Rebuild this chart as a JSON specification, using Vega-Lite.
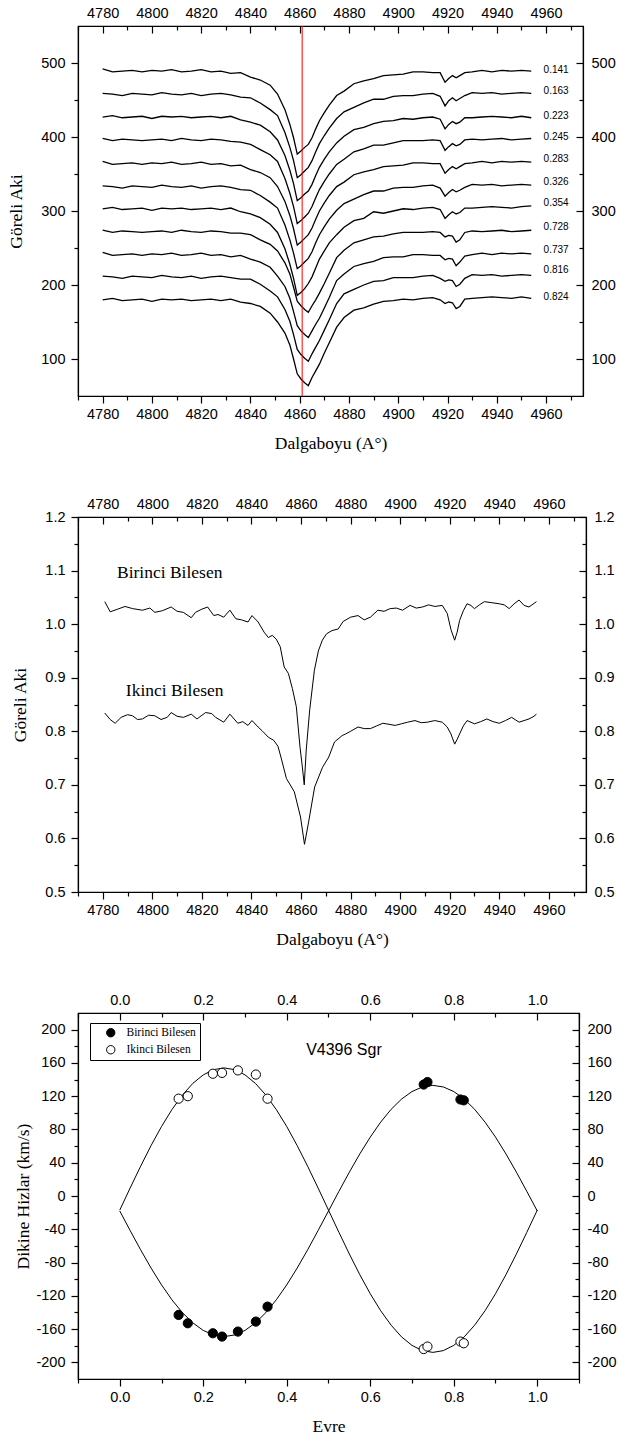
{
"$schema":"https://vega.github.io/schema/vega-lite/v6.json",
"background":"white",
"padding":{"left":7,"top":1,"right":0,"bottom":0},
"config":{
"view":{"stroke":"black","strokeWidth":1.2},
"axis":{"domainColor":"black","domainWidth":1.2,"tickColor":"black","tickWidth":1.2,"labelColor":"black","labelFont":"Liberation Sans","labelFontSize":14.5,"titleFont":"Liberation Serif","titleFontSize":17.5,"titleFontWeight":"normal","titleColor":"black","grid":false,"labelFlush":false,"labelOverlap":false,"labelBound":false}
},
"datasets":{
"spec":[
{"s":"0.141","w":4780,"f":492},{"s":"0.141","w":4784,"f":488},{"s":"0.141","w":4788,"f":489},{"s":"0.141","w":4792,"f":490},{"s":"0.141","w":4796,"f":488},{"s":"0.141","w":4800,"f":490},{"s":"0.141","w":4804,"f":489},{"s":"0.141","w":4808,"f":491},{"s":"0.141","w":4812,"f":488},{"s":"0.141","w":4816,"f":489},{"s":"0.141","w":4820,"f":491},{"s":"0.141","w":4824,"f":488},{"s":"0.141","w":4828,"f":489},{"s":"0.141","w":4832,"f":486},{"s":"0.141","w":4836,"f":487},{"s":"0.141","w":4840,"f":481},{"s":"0.141","w":4844,"f":477},{"s":"0.141","w":4848,"f":470},{"s":"0.141","w":4851,"f":458},{"s":"0.141","w":4854,"f":437},{"s":"0.141","w":4856,"f":417},{"s":"0.141","w":4857.5,"f":399},{"s":"0.141","w":4859,"f":377},{"s":"0.141","w":4860.5,"f":381},{"s":"0.141","w":4862,"f":386},{"s":"0.141","w":4863.5,"f":390},{"s":"0.141","w":4865,"f":399},{"s":"0.141","w":4866.5,"f":411},{"s":"0.141","w":4868,"f":422},{"s":"0.141","w":4870,"f":433},{"s":"0.141","w":4872,"f":443},{"s":"0.141","w":4875,"f":456},{"s":"0.141","w":4878,"f":462},{"s":"0.141","w":4882,"f":472},{"s":"0.141","w":4886,"f":476},{"s":"0.141","w":4890,"f":479},{"s":"0.141","w":4894,"f":483},{"s":"0.141","w":4898,"f":484},{"s":"0.141","w":4902,"f":485},{"s":"0.141","w":4906,"f":488},{"s":"0.141","w":4910,"f":488},{"s":"0.141","w":4914,"f":487},{"s":"0.141","w":4917,"f":487},{"s":"0.141","w":4919,"f":474},{"s":"0.141","w":4920.5,"f":479},{"s":"0.141","w":4922,"f":483},{"s":"0.141","w":4923.5,"f":480},{"s":"0.141","w":4925,"f":483},{"s":"0.141","w":4927,"f":487},{"s":"0.141","w":4930,"f":488},{"s":"0.141","w":4934,"f":490},{"s":"0.141","w":4938,"f":488},{"s":"0.141","w":4942,"f":490},{"s":"0.141","w":4946,"f":489},{"s":"0.141","w":4950,"f":490},{"s":"0.141","w":4954,"f":489},
{"s":"0.163","w":4780,"f":459},{"s":"0.163","w":4784,"f":458},{"s":"0.163","w":4788,"f":456},{"s":"0.163","w":4792,"f":459},{"s":"0.163","w":4796,"f":458},{"s":"0.163","w":4800,"f":457},{"s":"0.163","w":4804,"f":460},{"s":"0.163","w":4808,"f":458},{"s":"0.163","w":4812,"f":457},{"s":"0.163","w":4816,"f":459},{"s":"0.163","w":4820,"f":456},{"s":"0.163","w":4824,"f":458},{"s":"0.163","w":4828,"f":459},{"s":"0.163","w":4832,"f":457},{"s":"0.163","w":4836,"f":454},{"s":"0.163","w":4840,"f":453},{"s":"0.163","w":4844,"f":446},{"s":"0.163","w":4848,"f":437},{"s":"0.163","w":4851,"f":429},{"s":"0.163","w":4854,"f":406},{"s":"0.163","w":4856,"f":386},{"s":"0.163","w":4857.5,"f":368},{"s":"0.163","w":4859,"f":345},{"s":"0.163","w":4860.5,"f":349},{"s":"0.163","w":4862,"f":354},{"s":"0.163","w":4863.5,"f":359},{"s":"0.163","w":4865,"f":368},{"s":"0.163","w":4866.5,"f":380},{"s":"0.163","w":4868,"f":391},{"s":"0.163","w":4870,"f":402},{"s":"0.163","w":4872,"f":412},{"s":"0.163","w":4875,"f":425},{"s":"0.163","w":4878,"f":434},{"s":"0.163","w":4882,"f":440},{"s":"0.163","w":4886,"f":446},{"s":"0.163","w":4890,"f":451},{"s":"0.163","w":4894,"f":451},{"s":"0.163","w":4898,"f":455},{"s":"0.163","w":4902,"f":456},{"s":"0.163","w":4906,"f":456},{"s":"0.163","w":4910,"f":458},{"s":"0.163","w":4914,"f":459},{"s":"0.163","w":4917,"f":455},{"s":"0.163","w":4919,"f":442},{"s":"0.163","w":4920.5,"f":449},{"s":"0.163","w":4922,"f":453},{"s":"0.163","w":4923.5,"f":449},{"s":"0.163","w":4925,"f":452},{"s":"0.163","w":4927,"f":456},{"s":"0.163","w":4930,"f":460},{"s":"0.163","w":4934,"f":459},{"s":"0.163","w":4938,"f":460},{"s":"0.163","w":4942,"f":458},{"s":"0.163","w":4946,"f":459},{"s":"0.163","w":4950,"f":460},{"s":"0.163","w":4954,"f":459},
{"s":"0.223","w":4780,"f":427},{"s":"0.223","w":4784,"f":429},{"s":"0.223","w":4788,"f":426},{"s":"0.223","w":4792,"f":427},{"s":"0.223","w":4796,"f":428},{"s":"0.223","w":4800,"f":425},{"s":"0.223","w":4804,"f":428},{"s":"0.223","w":4808,"f":427},{"s":"0.223","w":4812,"f":428},{"s":"0.223","w":4816,"f":426},{"s":"0.223","w":4820,"f":427},{"s":"0.223","w":4824,"f":428},{"s":"0.223","w":4828,"f":426},{"s":"0.223","w":4832,"f":428},{"s":"0.223","w":4836,"f":423},{"s":"0.223","w":4840,"f":420},{"s":"0.223","w":4844,"f":416},{"s":"0.223","w":4848,"f":407},{"s":"0.223","w":4851,"f":396},{"s":"0.223","w":4854,"f":375},{"s":"0.223","w":4856,"f":355},{"s":"0.223","w":4857.5,"f":337},{"s":"0.223","w":4859,"f":314},{"s":"0.223","w":4860.5,"f":318},{"s":"0.223","w":4862,"f":323},{"s":"0.223","w":4863.5,"f":327},{"s":"0.223","w":4865,"f":336},{"s":"0.223","w":4866.5,"f":348},{"s":"0.223","w":4868,"f":359},{"s":"0.223","w":4870,"f":370},{"s":"0.223","w":4872,"f":380},{"s":"0.223","w":4875,"f":392},{"s":"0.223","w":4878,"f":401},{"s":"0.223","w":4882,"f":410},{"s":"0.223","w":4886,"f":413},{"s":"0.223","w":4890,"f":418},{"s":"0.223","w":4894,"f":421},{"s":"0.223","w":4898,"f":422},{"s":"0.223","w":4902,"f":425},{"s":"0.223","w":4906,"f":424},{"s":"0.223","w":4910,"f":426},{"s":"0.223","w":4914,"f":427},{"s":"0.223","w":4917,"f":424},{"s":"0.223","w":4919,"f":411},{"s":"0.223","w":4920.5,"f":417},{"s":"0.223","w":4922,"f":421},{"s":"0.223","w":4923.5,"f":418},{"s":"0.223","w":4925,"f":420},{"s":"0.223","w":4927,"f":426},{"s":"0.223","w":4930,"f":426},{"s":"0.223","w":4934,"f":427},{"s":"0.223","w":4938,"f":428},{"s":"0.223","w":4942,"f":427},{"s":"0.223","w":4946,"f":426},{"s":"0.223","w":4950,"f":428},{"s":"0.223","w":4954,"f":426},
{"s":"0.245","w":4780,"f":398},{"s":"0.245","w":4784,"f":395},{"s":"0.245","w":4788,"f":397},{"s":"0.245","w":4792,"f":396},{"s":"0.245","w":4796,"f":395},{"s":"0.245","w":4800,"f":396},{"s":"0.245","w":4804,"f":397},{"s":"0.245","w":4808,"f":395},{"s":"0.245","w":4812,"f":398},{"s":"0.245","w":4816,"f":396},{"s":"0.245","w":4820,"f":395},{"s":"0.245","w":4824,"f":397},{"s":"0.245","w":4828,"f":396},{"s":"0.245","w":4832,"f":394},{"s":"0.245","w":4836,"f":393},{"s":"0.245","w":4840,"f":390},{"s":"0.245","w":4844,"f":383},{"s":"0.245","w":4848,"f":376},{"s":"0.245","w":4851,"f":367},{"s":"0.245","w":4854,"f":344},{"s":"0.245","w":4856,"f":324},{"s":"0.245","w":4857.5,"f":306},{"s":"0.245","w":4859,"f":283},{"s":"0.245","w":4860.5,"f":287},{"s":"0.245","w":4862,"f":292},{"s":"0.245","w":4863.5,"f":297},{"s":"0.245","w":4865,"f":306},{"s":"0.245","w":4866.5,"f":318},{"s":"0.245","w":4868,"f":329},{"s":"0.245","w":4870,"f":340},{"s":"0.245","w":4872,"f":350},{"s":"0.245","w":4875,"f":363},{"s":"0.245","w":4878,"f":370},{"s":"0.245","w":4882,"f":380},{"s":"0.245","w":4886,"f":384},{"s":"0.245","w":4890,"f":389},{"s":"0.245","w":4894,"f":389},{"s":"0.245","w":4898,"f":392},{"s":"0.245","w":4902,"f":395},{"s":"0.245","w":4906,"f":395},{"s":"0.245","w":4910,"f":395},{"s":"0.245","w":4914,"f":396},{"s":"0.245","w":4917,"f":395},{"s":"0.245","w":4919,"f":382},{"s":"0.245","w":4920.5,"f":387},{"s":"0.245","w":4922,"f":391},{"s":"0.245","w":4923.5,"f":388},{"s":"0.245","w":4925,"f":390},{"s":"0.245","w":4927,"f":396},{"s":"0.245","w":4930,"f":397},{"s":"0.245","w":4934,"f":396},{"s":"0.245","w":4938,"f":397},{"s":"0.245","w":4942,"f":398},{"s":"0.245","w":4946,"f":396},{"s":"0.245","w":4950,"f":397},{"s":"0.245","w":4954,"f":398},
{"s":"0.283","w":4780,"f":367},{"s":"0.283","w":4784,"f":363},{"s":"0.283","w":4788,"f":364},{"s":"0.283","w":4792,"f":365},{"s":"0.283","w":4796,"f":363},{"s":"0.283","w":4800,"f":365},{"s":"0.283","w":4804,"f":364},{"s":"0.283","w":4808,"f":366},{"s":"0.283","w":4812,"f":363},{"s":"0.283","w":4816,"f":364},{"s":"0.283","w":4820,"f":366},{"s":"0.283","w":4824,"f":363},{"s":"0.283","w":4828,"f":364},{"s":"0.283","w":4832,"f":361},{"s":"0.283","w":4836,"f":362},{"s":"0.283","w":4840,"f":356},{"s":"0.283","w":4844,"f":352},{"s":"0.283","w":4848,"f":345},{"s":"0.283","w":4851,"f":333},{"s":"0.283","w":4854,"f":313},{"s":"0.283","w":4856,"f":294},{"s":"0.283","w":4857.5,"f":276},{"s":"0.283","w":4859,"f":254},{"s":"0.283","w":4860.5,"f":258},{"s":"0.283","w":4862,"f":263},{"s":"0.283","w":4863.5,"f":268},{"s":"0.283","w":4865,"f":277},{"s":"0.283","w":4866.5,"f":289},{"s":"0.283","w":4868,"f":300},{"s":"0.283","w":4870,"f":311},{"s":"0.283","w":4872,"f":321},{"s":"0.283","w":4875,"f":333},{"s":"0.283","w":4878,"f":339},{"s":"0.283","w":4882,"f":349},{"s":"0.283","w":4886,"f":353},{"s":"0.283","w":4890,"f":356},{"s":"0.283","w":4894,"f":360},{"s":"0.283","w":4898,"f":361},{"s":"0.283","w":4902,"f":362},{"s":"0.283","w":4906,"f":365},{"s":"0.283","w":4910,"f":365},{"s":"0.283","w":4914,"f":364},{"s":"0.283","w":4917,"f":364},{"s":"0.283","w":4919,"f":351},{"s":"0.283","w":4920.5,"f":356},{"s":"0.283","w":4922,"f":360},{"s":"0.283","w":4923.5,"f":357},{"s":"0.283","w":4925,"f":360},{"s":"0.283","w":4927,"f":364},{"s":"0.283","w":4930,"f":365},{"s":"0.283","w":4934,"f":367},{"s":"0.283","w":4938,"f":365},{"s":"0.283","w":4942,"f":367},{"s":"0.283","w":4946,"f":366},{"s":"0.283","w":4950,"f":367},{"s":"0.283","w":4954,"f":366},
{"s":"0.326","w":4780,"f":334},{"s":"0.326","w":4784,"f":333},{"s":"0.326","w":4788,"f":331},{"s":"0.326","w":4792,"f":334},{"s":"0.326","w":4796,"f":333},{"s":"0.326","w":4800,"f":332},{"s":"0.326","w":4804,"f":335},{"s":"0.326","w":4808,"f":333},{"s":"0.326","w":4812,"f":332},{"s":"0.326","w":4816,"f":334},{"s":"0.326","w":4820,"f":331},{"s":"0.326","w":4824,"f":333},{"s":"0.326","w":4828,"f":334},{"s":"0.326","w":4832,"f":332},{"s":"0.326","w":4836,"f":329},{"s":"0.326","w":4840,"f":328},{"s":"0.326","w":4844,"f":321},{"s":"0.326","w":4848,"f":312},{"s":"0.326","w":4851,"f":304},{"s":"0.326","w":4854,"f":281},{"s":"0.326","w":4856,"f":261},{"s":"0.326","w":4857.5,"f":243},{"s":"0.326","w":4859,"f":222},{"s":"0.326","w":4860.5,"f":226},{"s":"0.326","w":4862,"f":231},{"s":"0.326","w":4863.5,"f":236},{"s":"0.326","w":4865,"f":245},{"s":"0.326","w":4866.5,"f":257},{"s":"0.326","w":4868,"f":268},{"s":"0.326","w":4870,"f":279},{"s":"0.326","w":4872,"f":289},{"s":"0.326","w":4875,"f":301},{"s":"0.326","w":4878,"f":310},{"s":"0.326","w":4882,"f":316},{"s":"0.326","w":4886,"f":322},{"s":"0.326","w":4890,"f":327},{"s":"0.326","w":4894,"f":327},{"s":"0.326","w":4898,"f":331},{"s":"0.326","w":4902,"f":332},{"s":"0.326","w":4906,"f":332},{"s":"0.326","w":4910,"f":334},{"s":"0.326","w":4914,"f":335},{"s":"0.326","w":4917,"f":331},{"s":"0.326","w":4919,"f":320},{"s":"0.326","w":4920.5,"f":325},{"s":"0.326","w":4922,"f":329},{"s":"0.326","w":4923.5,"f":326},{"s":"0.326","w":4925,"f":328},{"s":"0.326","w":4927,"f":332},{"s":"0.326","w":4930,"f":336},{"s":"0.326","w":4934,"f":335},{"s":"0.326","w":4938,"f":336},{"s":"0.326","w":4942,"f":334},{"s":"0.326","w":4946,"f":335},{"s":"0.326","w":4950,"f":336},{"s":"0.326","w":4954,"f":335},
{"s":"0.354","w":4780,"f":303},{"s":"0.354","w":4784,"f":305},{"s":"0.354","w":4788,"f":302},{"s":"0.354","w":4792,"f":303},{"s":"0.354","w":4796,"f":304},{"s":"0.354","w":4800,"f":301},{"s":"0.354","w":4804,"f":304},{"s":"0.354","w":4808,"f":303},{"s":"0.354","w":4812,"f":304},{"s":"0.354","w":4816,"f":302},{"s":"0.354","w":4820,"f":303},{"s":"0.354","w":4824,"f":304},{"s":"0.354","w":4828,"f":302},{"s":"0.354","w":4832,"f":304},{"s":"0.354","w":4836,"f":299},{"s":"0.354","w":4840,"f":296},{"s":"0.354","w":4844,"f":291},{"s":"0.354","w":4848,"f":282},{"s":"0.354","w":4851,"f":271},{"s":"0.354","w":4854,"f":249},{"s":"0.354","w":4856,"f":228},{"s":"0.354","w":4857.5,"f":209},{"s":"0.354","w":4859,"f":186},{"s":"0.354","w":4860.5,"f":190},{"s":"0.354","w":4862,"f":195},{"s":"0.354","w":4863.5,"f":202},{"s":"0.354","w":4865,"f":211},{"s":"0.354","w":4866.5,"f":223},{"s":"0.354","w":4868,"f":235},{"s":"0.354","w":4870,"f":246},{"s":"0.354","w":4872,"f":257},{"s":"0.354","w":4875,"f":268},{"s":"0.354","w":4878,"f":278},{"s":"0.354","w":4882,"f":287},{"s":"0.354","w":4886,"f":290},{"s":"0.354","w":4890,"f":299},{"s":"0.354","w":4894,"f":297},{"s":"0.354","w":4898,"f":300},{"s":"0.354","w":4902,"f":303},{"s":"0.354","w":4906,"f":302},{"s":"0.354","w":4910,"f":304},{"s":"0.354","w":4914,"f":305},{"s":"0.354","w":4917,"f":302},{"s":"0.354","w":4919,"f":290},{"s":"0.354","w":4920.5,"f":295},{"s":"0.354","w":4922,"f":299},{"s":"0.354","w":4923.5,"f":296},{"s":"0.354","w":4925,"f":298},{"s":"0.354","w":4927,"f":304},{"s":"0.354","w":4930,"f":304},{"s":"0.354","w":4934,"f":305},{"s":"0.354","w":4938,"f":306},{"s":"0.354","w":4942,"f":305},{"s":"0.354","w":4946,"f":304},{"s":"0.354","w":4950,"f":306},{"s":"0.354","w":4954,"f":307},
{"s":"0.728","w":4780,"f":274},{"s":"0.728","w":4784,"f":271},{"s":"0.728","w":4788,"f":273},{"s":"0.728","w":4792,"f":272},{"s":"0.728","w":4796,"f":271},{"s":"0.728","w":4800,"f":272},{"s":"0.728","w":4804,"f":273},{"s":"0.728","w":4808,"f":271},{"s":"0.728","w":4812,"f":274},{"s":"0.728","w":4816,"f":272},{"s":"0.728","w":4820,"f":271},{"s":"0.728","w":4824,"f":273},{"s":"0.728","w":4828,"f":272},{"s":"0.728","w":4832,"f":270},{"s":"0.728","w":4836,"f":270},{"s":"0.728","w":4840,"f":268},{"s":"0.728","w":4844,"f":261},{"s":"0.728","w":4848,"f":255},{"s":"0.728","w":4851,"f":246},{"s":"0.728","w":4854,"f":230},{"s":"0.728","w":4856,"f":215},{"s":"0.728","w":4857.5,"f":197},{"s":"0.728","w":4859,"f":178},{"s":"0.728","w":4860.5,"f":172},{"s":"0.728","w":4862,"f":167},{"s":"0.728","w":4863.5,"f":163},{"s":"0.728","w":4865,"f":172},{"s":"0.728","w":4866.5,"f":180},{"s":"0.728","w":4868,"f":189},{"s":"0.728","w":4870,"f":202},{"s":"0.728","w":4872,"f":216},{"s":"0.728","w":4875,"f":237},{"s":"0.728","w":4878,"f":247},{"s":"0.728","w":4882,"f":257},{"s":"0.728","w":4886,"f":261},{"s":"0.728","w":4890,"f":265},{"s":"0.728","w":4894,"f":266},{"s":"0.728","w":4898,"f":269},{"s":"0.728","w":4902,"f":271},{"s":"0.728","w":4906,"f":271},{"s":"0.728","w":4910,"f":271},{"s":"0.728","w":4914,"f":272},{"s":"0.728","w":4917,"f":271},{"s":"0.728","w":4919,"f":265},{"s":"0.728","w":4920.5,"f":267},{"s":"0.728","w":4922,"f":266},{"s":"0.728","w":4923.5,"f":258},{"s":"0.728","w":4925,"f":261},{"s":"0.728","w":4927,"f":271},{"s":"0.728","w":4930,"f":273},{"s":"0.728","w":4934,"f":272},{"s":"0.728","w":4938,"f":273},{"s":"0.728","w":4942,"f":274},{"s":"0.728","w":4946,"f":272},{"s":"0.728","w":4950,"f":273},{"s":"0.728","w":4954,"f":274},
{"s":"0.737","w":4780,"f":244},{"s":"0.737","w":4784,"f":240},{"s":"0.737","w":4788,"f":241},{"s":"0.737","w":4792,"f":242},{"s":"0.737","w":4796,"f":240},{"s":"0.737","w":4800,"f":242},{"s":"0.737","w":4804,"f":241},{"s":"0.737","w":4808,"f":243},{"s":"0.737","w":4812,"f":240},{"s":"0.737","w":4816,"f":241},{"s":"0.737","w":4820,"f":243},{"s":"0.737","w":4824,"f":240},{"s":"0.737","w":4828,"f":241},{"s":"0.737","w":4832,"f":238},{"s":"0.737","w":4836,"f":240},{"s":"0.737","w":4840,"f":235},{"s":"0.737","w":4844,"f":231},{"s":"0.737","w":4848,"f":224},{"s":"0.737","w":4851,"f":212},{"s":"0.737","w":4854,"f":198},{"s":"0.737","w":4856,"f":182},{"s":"0.737","w":4857.5,"f":164},{"s":"0.737","w":4859,"f":145},{"s":"0.737","w":4860.5,"f":138},{"s":"0.737","w":4862,"f":133},{"s":"0.737","w":4863.5,"f":129},{"s":"0.737","w":4865,"f":138},{"s":"0.737","w":4866.5,"f":147},{"s":"0.737","w":4868,"f":155},{"s":"0.737","w":4870,"f":169},{"s":"0.737","w":4872,"f":183},{"s":"0.737","w":4875,"f":206},{"s":"0.737","w":4878,"f":215},{"s":"0.737","w":4882,"f":225},{"s":"0.737","w":4886,"f":229},{"s":"0.737","w":4890,"f":232},{"s":"0.737","w":4894,"f":237},{"s":"0.737","w":4898,"f":238},{"s":"0.737","w":4902,"f":238},{"s":"0.737","w":4906,"f":241},{"s":"0.737","w":4910,"f":241},{"s":"0.737","w":4914,"f":240},{"s":"0.737","w":4917,"f":240},{"s":"0.737","w":4919,"f":234},{"s":"0.737","w":4920.5,"f":236},{"s":"0.737","w":4922,"f":235},{"s":"0.737","w":4923.5,"f":226},{"s":"0.737","w":4925,"f":231},{"s":"0.737","w":4927,"f":239},{"s":"0.737","w":4930,"f":241},{"s":"0.737","w":4934,"f":243},{"s":"0.737","w":4938,"f":241},{"s":"0.737","w":4942,"f":243},{"s":"0.737","w":4946,"f":242},{"s":"0.737","w":4950,"f":243},{"s":"0.737","w":4954,"f":242},
{"s":"0.816","w":4780,"f":212},{"s":"0.816","w":4784,"f":211},{"s":"0.816","w":4788,"f":209},{"s":"0.816","w":4792,"f":212},{"s":"0.816","w":4796,"f":211},{"s":"0.816","w":4800,"f":210},{"s":"0.816","w":4804,"f":213},{"s":"0.816","w":4808,"f":211},{"s":"0.816","w":4812,"f":210},{"s":"0.816","w":4816,"f":212},{"s":"0.816","w":4820,"f":209},{"s":"0.816","w":4824,"f":211},{"s":"0.816","w":4828,"f":212},{"s":"0.816","w":4832,"f":210},{"s":"0.816","w":4836,"f":208},{"s":"0.816","w":4840,"f":208},{"s":"0.816","w":4844,"f":201},{"s":"0.816","w":4848,"f":192},{"s":"0.816","w":4851,"f":184},{"s":"0.816","w":4854,"f":167},{"s":"0.816","w":4856,"f":151},{"s":"0.816","w":4857.5,"f":133},{"s":"0.816","w":4859,"f":113},{"s":"0.816","w":4860.5,"f":106},{"s":"0.816","w":4862,"f":101},{"s":"0.816","w":4863.5,"f":97},{"s":"0.816","w":4865,"f":107},{"s":"0.816","w":4866.5,"f":116},{"s":"0.816","w":4868,"f":125},{"s":"0.816","w":4870,"f":139},{"s":"0.816","w":4872,"f":153},{"s":"0.816","w":4875,"f":175},{"s":"0.816","w":4878,"f":188},{"s":"0.816","w":4882,"f":194},{"s":"0.816","w":4886,"f":200},{"s":"0.816","w":4890,"f":205},{"s":"0.816","w":4894,"f":206},{"s":"0.816","w":4898,"f":210},{"s":"0.816","w":4902,"f":210},{"s":"0.816","w":4906,"f":210},{"s":"0.816","w":4910,"f":212},{"s":"0.816","w":4914,"f":213},{"s":"0.816","w":4917,"f":209},{"s":"0.816","w":4919,"f":205},{"s":"0.816","w":4920.5,"f":207},{"s":"0.816","w":4922,"f":206},{"s":"0.816","w":4923.5,"f":198},{"s":"0.816","w":4925,"f":201},{"s":"0.816","w":4927,"f":209},{"s":"0.816","w":4930,"f":214},{"s":"0.816","w":4934,"f":213},{"s":"0.816","w":4938,"f":214},{"s":"0.816","w":4942,"f":212},{"s":"0.816","w":4946,"f":213},{"s":"0.816","w":4950,"f":214},{"s":"0.816","w":4954,"f":213},
{"s":"0.824","w":4780,"f":180},{"s":"0.824","w":4784,"f":182},{"s":"0.824","w":4788,"f":179},{"s":"0.824","w":4792,"f":180},{"s":"0.824","w":4796,"f":181},{"s":"0.824","w":4800,"f":178},{"s":"0.824","w":4804,"f":181},{"s":"0.824","w":4808,"f":180},{"s":"0.824","w":4812,"f":181},{"s":"0.824","w":4816,"f":179},{"s":"0.824","w":4820,"f":180},{"s":"0.824","w":4824,"f":181},{"s":"0.824","w":4828,"f":179},{"s":"0.824","w":4832,"f":181},{"s":"0.824","w":4836,"f":177},{"s":"0.824","w":4840,"f":175},{"s":"0.824","w":4844,"f":171},{"s":"0.824","w":4848,"f":162},{"s":"0.824","w":4851,"f":150},{"s":"0.824","w":4854,"f":135},{"s":"0.824","w":4856,"f":119},{"s":"0.824","w":4857.5,"f":100},{"s":"0.824","w":4859,"f":80},{"s":"0.824","w":4860.5,"f":73},{"s":"0.824","w":4862,"f":68},{"s":"0.824","w":4863.5,"f":64},{"s":"0.824","w":4865,"f":75},{"s":"0.824","w":4866.5,"f":84},{"s":"0.824","w":4868,"f":93},{"s":"0.824","w":4870,"f":108},{"s":"0.824","w":4872,"f":122},{"s":"0.824","w":4875,"f":143},{"s":"0.824","w":4878,"f":156},{"s":"0.824","w":4882,"f":166},{"s":"0.824","w":4886,"f":169},{"s":"0.824","w":4890,"f":174},{"s":"0.824","w":4894,"f":178},{"s":"0.824","w":4898,"f":179},{"s":"0.824","w":4902,"f":181},{"s":"0.824","w":4906,"f":180},{"s":"0.824","w":4910,"f":182},{"s":"0.824","w":4914,"f":183},{"s":"0.824","w":4917,"f":180},{"s":"0.824","w":4919,"f":175},{"s":"0.824","w":4920.5,"f":177},{"s":"0.824","w":4922,"f":176},{"s":"0.824","w":4923.5,"f":168},{"s":"0.824","w":4925,"f":171},{"s":"0.824","w":4927,"f":181},{"s":"0.824","w":4930,"f":182},{"s":"0.824","w":4934,"f":183},{"s":"0.824","w":4938,"f":184},{"s":"0.824","w":4942,"f":183},{"s":"0.824","w":4946,"f":182},{"s":"0.824","w":4950,"f":184},{"s":"0.824","w":4954,"f":182}
],
"lab":[{"s":"0.141","y":490},{"s":"0.163","y":462},{"s":"0.223","y":429},{"s":"0.245","y":400},{"s":"0.283","y":370},{"s":"0.326","y":339},{"s":"0.354","y":311},{"s":"0.728","y":278},{"s":"0.737","y":247},{"s":"0.816","y":220},{"s":"0.824","y":184}],
"comp":[
{"c":"B","w":4780.8,"f":1.042},{"c":"B","w":4783,"f":1.023},{"c":"B","w":4786,"f":1.028},{"c":"B","w":4789,"f":1.033},{"c":"B","w":4792,"f":1.029},{"c":"B","w":4796,"f":1.026},{"c":"B","w":4799,"f":1.03},{"c":"B","w":4801,"f":1.022},{"c":"B","w":4804,"f":1.025},{"c":"B","w":4807.6,"f":1.032},{"c":"B","w":4810,"f":1.024},{"c":"B","w":4812.5,"f":1.022},{"c":"B","w":4815.7,"f":1.012},{"c":"B","w":4817.4,"f":1.022},{"c":"B","w":4820,"f":1.028},{"c":"B","w":4822.3,"f":1.032},{"c":"B","w":4824.8,"f":1.016},{"c":"B","w":4826.5,"f":1.018},{"c":"B","w":4828.8,"f":1.013},{"c":"B","w":4831.3,"f":1.026},{"c":"B","w":4833.7,"f":1.01},{"c":"B","w":4836,"f":1.008},{"c":"B","w":4838.6,"f":1.004},{"c":"B","w":4840.2,"f":1.016},{"c":"B","w":4842.7,"f":1.004},{"c":"B","w":4845.1,"f":0.985},{"c":"B","w":4846.8,"f":0.975},{"c":"B","w":4848.4,"f":0.979},{"c":"B","w":4850,"f":0.972},{"c":"B","w":4851.6,"f":0.958},{"c":"B","w":4853.2,"f":0.92},{"c":"B","w":4854.9,"f":0.908},{"c":"B","w":4856.5,"f":0.88},{"c":"B","w":4858.1,"f":0.846},{"c":"B","w":4859.6,"f":0.77},{"c":"B","w":4860.5,"f":0.735},{"c":"B","w":4861.3,"f":0.7},{"c":"B","w":4862.1,"f":0.765},{"c":"B","w":4863.5,"f":0.84},{"c":"B","w":4865.4,"f":0.914},{"c":"B","w":4867,"f":0.95},{"c":"B","w":4868.6,"f":0.97},{"c":"B","w":4870.3,"f":0.982},{"c":"B","w":4872.5,"f":0.988},{"c":"B","w":4875,"f":0.991},{"c":"B","w":4877,"f":1.005},{"c":"B","w":4880,"f":1.013},{"c":"B","w":4883,"f":1.016},{"c":"B","w":4885.5,"f":1.008},{"c":"B","w":4888,"f":1.013},{"c":"B","w":4891,"f":1.026},{"c":"B","w":4893.5,"f":1.024},{"c":"B","w":4896,"f":1.029},{"c":"B","w":4898.5,"f":1.03},{"c":"B","w":4901,"f":1.026},{"c":"B","w":4904,"f":1.035},{"c":"B","w":4906.5,"f":1.03},{"c":"B","w":4909,"f":1.032},{"c":"B","w":4911.5,"f":1.036},{"c":"B","w":4914,"f":1.033},{"c":"B","w":4917,"f":1.035},{"c":"B","w":4919,"f":1.02},{"c":"B","w":4920.5,"f":0.99},{"c":"B","w":4922,"f":0.97},{"c":"B","w":4923,"f":0.985},{"c":"B","w":4924,"f":1.007},{"c":"B","w":4925.5,"f":1.025},{"c":"B","w":4927,"f":1.038},{"c":"B","w":4928.5,"f":1.035},{"c":"B","w":4930,"f":1.029},{"c":"B","w":4932,"f":1.036},{"c":"B","w":4934,"f":1.042},{"c":"B","w":4937,"f":1.04},{"c":"B","w":4940,"f":1.038},{"c":"B","w":4942,"f":1.036},{"c":"B","w":4944,"f":1.029},{"c":"B","w":4946,"f":1.038},{"c":"B","w":4948,"f":1.045},{"c":"B","w":4950,"f":1.035},{"c":"B","w":4952,"f":1.032},{"c":"B","w":4955,"f":1.042},
{"c":"I","w":4780.8,"f":0.834},{"c":"I","w":4783,"f":0.822},{"c":"I","w":4785,"f":0.815},{"c":"I","w":4787.4,"f":0.826},{"c":"I","w":4790,"f":0.831},{"c":"I","w":4792,"f":0.829},{"c":"I","w":4794,"f":0.822},{"c":"I","w":4796,"f":0.823},{"c":"I","w":4798.5,"f":0.83},{"c":"I","w":4801,"f":0.829},{"c":"I","w":4803.5,"f":0.822},{"c":"I","w":4806,"f":0.826},{"c":"I","w":4807.6,"f":0.835},{"c":"I","w":4810,"f":0.828},{"c":"I","w":4812.5,"f":0.826},{"c":"I","w":4815.7,"f":0.832},{"c":"I","w":4818,"f":0.823},{"c":"I","w":4821.5,"f":0.835},{"c":"I","w":4824,"f":0.833},{"c":"I","w":4825.5,"f":0.826},{"c":"I","w":4828.8,"f":0.817},{"c":"I","w":4831.3,"f":0.832},{"c":"I","w":4834.5,"f":0.815},{"c":"I","w":4836.5,"f":0.818},{"c":"I","w":4838.6,"f":0.811},{"c":"I","w":4840.2,"f":0.82},{"c":"I","w":4842.7,"f":0.808},{"c":"I","w":4844.5,"f":0.8},{"c":"I","w":4846.8,"f":0.789},{"c":"I","w":4849,"f":0.783},{"c":"I","w":4850.7,"f":0.772},{"c":"I","w":4852,"f":0.75},{"c":"I","w":4854.1,"f":0.712},{"c":"I","w":4857.3,"f":0.687},{"c":"I","w":4859.8,"f":0.64},{"c":"I","w":4861.4,"f":0.589},{"c":"I","w":4863,"f":0.629},{"c":"I","w":4865.5,"f":0.696},{"c":"I","w":4868.7,"f":0.733},{"c":"I","w":4871.2,"f":0.752},{"c":"I","w":4873.5,"f":0.78},{"c":"I","w":4876.6,"f":0.792},{"c":"I","w":4878,"f":0.795},{"c":"I","w":4880,"f":0.8},{"c":"I","w":4883,"f":0.808},{"c":"I","w":4885.5,"f":0.805},{"c":"I","w":4888,"f":0.805},{"c":"I","w":4890.5,"f":0.81},{"c":"I","w":4893,"f":0.815},{"c":"I","w":4895.5,"f":0.813},{"c":"I","w":4898,"f":0.811},{"c":"I","w":4900.5,"f":0.814},{"c":"I","w":4903,"f":0.817},{"c":"I","w":4906,"f":0.82},{"c":"I","w":4908.5,"f":0.816},{"c":"I","w":4911,"f":0.817},{"c":"I","w":4914,"f":0.82},{"c":"I","w":4917,"f":0.817},{"c":"I","w":4919,"f":0.808},{"c":"I","w":4920.5,"f":0.795},{"c":"I","w":4922,"f":0.776},{"c":"I","w":4923,"f":0.785},{"c":"I","w":4924,"f":0.795},{"c":"I","w":4925.5,"f":0.81},{"c":"I","w":4927,"f":0.82},{"c":"I","w":4930,"f":0.814},{"c":"I","w":4932.5,"f":0.818},{"c":"I","w":4935,"f":0.823},{"c":"I","w":4937.5,"f":0.818},{"c":"I","w":4940,"f":0.815},{"c":"I","w":4942.5,"f":0.82},{"c":"I","w":4945,"f":0.826},{"c":"I","w":4948,"f":0.817},{"c":"I","w":4950,"f":0.82},{"c":"I","w":4952,"f":0.823},{"c":"I","w":4954,"f":0.828},{"c":"I","w":4955,"f":0.832}
],
"comptxt":[{"t":"Birinci Bilesen","w":4807,"f":1.095},{"t":"Ikinci Bilesen","w":4809,"f":0.875}],
"fit":[
{"c":"B","p":0,"v":-18},{"c":"B","p":0.025,"v":-41.6},{"c":"B","p":0.05,"v":-64.7},{"c":"B","p":0.075,"v":-86.6},{"c":"B","p":0.1,"v":-106.8},{"c":"B","p":0.125,"v":-124.8},{"c":"B","p":0.15,"v":-140.2},{"c":"B","p":0.175,"v":-152.5},{"c":"B","p":0.2,"v":-161.6},{"c":"B","p":0.225,"v":-167.1},{"c":"B","p":0.25,"v":-169},{"c":"B","p":0.275,"v":-167.1},{"c":"B","p":0.3,"v":-161.6},{"c":"B","p":0.325,"v":-152.5},{"c":"B","p":0.35,"v":-140.2},{"c":"B","p":0.375,"v":-124.8},{"c":"B","p":0.4,"v":-106.8},{"c":"B","p":0.425,"v":-86.6},{"c":"B","p":0.45,"v":-64.7},{"c":"B","p":0.475,"v":-41.6},{"c":"B","p":0.5,"v":-18},{"c":"B","p":0.525,"v":5.6},{"c":"B","p":0.55,"v":28.7},{"c":"B","p":0.575,"v":50.6},{"c":"B","p":0.6,"v":70.8},{"c":"B","p":0.625,"v":88.8},{"c":"B","p":0.65,"v":104.2},{"c":"B","p":0.675,"v":116.5},{"c":"B","p":0.7,"v":125.6},{"c":"B","p":0.725,"v":131.1},{"c":"B","p":0.75,"v":133},{"c":"B","p":0.775,"v":131.1},{"c":"B","p":0.8,"v":125.6},{"c":"B","p":0.825,"v":116.5},{"c":"B","p":0.85,"v":104.2},{"c":"B","p":0.875,"v":88.8},{"c":"B","p":0.9,"v":70.8},{"c":"B","p":0.925,"v":50.6},{"c":"B","p":0.95,"v":28.7},{"c":"B","p":0.975,"v":5.6},{"c":"B","p":1,"v":-18},
{"c":"I","p":0,"v":-17},{"c":"I","p":0.025,"v":9.7},{"c":"I","p":0.05,"v":35.8},{"c":"I","p":0.075,"v":60.6},{"c":"I","p":0.1,"v":83.5},{"c":"I","p":0.125,"v":103.9},{"c":"I","p":0.15,"v":121.3},{"c":"I","p":0.175,"v":135.4},{"c":"I","p":0.2,"v":145.6},{"c":"I","p":0.225,"v":151.9},{"c":"I","p":0.25,"v":154},{"c":"I","p":0.275,"v":151.9},{"c":"I","p":0.3,"v":145.6},{"c":"I","p":0.325,"v":135.4},{"c":"I","p":0.35,"v":121.3},{"c":"I","p":0.375,"v":103.9},{"c":"I","p":0.4,"v":83.5},{"c":"I","p":0.425,"v":60.6},{"c":"I","p":0.45,"v":35.8},{"c":"I","p":0.475,"v":9.7},{"c":"I","p":0.5,"v":-17},{"c":"I","p":0.525,"v":-43.7},{"c":"I","p":0.55,"v":-69.8},{"c":"I","p":0.575,"v":-94.6},{"c":"I","p":0.6,"v":-117.5},{"c":"I","p":0.625,"v":-137.9},{"c":"I","p":0.65,"v":-155.3},{"c":"I","p":0.675,"v":-169.4},{"c":"I","p":0.7,"v":-179.6},{"c":"I","p":0.725,"v":-185.9},{"c":"I","p":0.75,"v":-188},{"c":"I","p":0.775,"v":-185.9},{"c":"I","p":0.8,"v":-179.6},{"c":"I","p":0.825,"v":-169.4},{"c":"I","p":0.85,"v":-155.3},{"c":"I","p":0.875,"v":-137.9},{"c":"I","p":0.9,"v":-117.5},{"c":"I","p":0.925,"v":-94.6},{"c":"I","p":0.95,"v":-69.8},{"c":"I","p":0.975,"v":-43.7},{"c":"I","p":1,"v":-17}
],
"obs":[
{"c":"Birinci Bilesen","p":0.141,"v":-143},{"c":"Birinci Bilesen","p":0.163,"v":-153},{"c":"Birinci Bilesen","p":0.223,"v":-165},{"c":"Birinci Bilesen","p":0.245,"v":-169},{"c":"Birinci Bilesen","p":0.283,"v":-163},{"c":"Birinci Bilesen","p":0.326,"v":-151},{"c":"Birinci Bilesen","p":0.354,"v":-133},{"c":"Birinci Bilesen","p":0.728,"v":134},{"c":"Birinci Bilesen","p":0.737,"v":137},{"c":"Birinci Bilesen","p":0.816,"v":116},{"c":"Birinci Bilesen","p":0.824,"v":115},
{"c":"Ikinci Bilesen","p":0.141,"v":117},{"c":"Ikinci Bilesen","p":0.163,"v":120},{"c":"Ikinci Bilesen","p":0.223,"v":147},{"c":"Ikinci Bilesen","p":0.245,"v":148},{"c":"Ikinci Bilesen","p":0.283,"v":151},{"c":"Ikinci Bilesen","p":0.326,"v":146},{"c":"Ikinci Bilesen","p":0.354,"v":117},{"c":"Ikinci Bilesen","p":0.728,"v":-184},{"c":"Ikinci Bilesen","p":0.737,"v":-181},{"c":"Ikinci Bilesen","p":0.816,"v":-175},{"c":"Ikinci Bilesen","p":0.824,"v":-177}
]
},
"columns":1,
"align":"none",
"spacing":39,
"concat":[
{"width":505,"height":370,
"layer":[
{"data":{"name":"spec"},"mark":{"type":"line","color":"black","strokeWidth":1.3},
"encoding":{
"x":{"field":"w","type":"quantitative","scale":{"domain":[4770,4975],"nice":false,"zero":false},
"axis":{"orient":"bottom","values":[4770,4780,4790,4800,4810,4820,4830,4840,4850,4860,4870,4880,4890,4900,4910,4920,4930,4940,4950,4960,4970],"format":"d","labelExpr":"datum.value % 20 === 0 ? datum.label : ''","tickSize":{"condition":{"test":"datum.value % 20 === 0","value":7},"value":4},"labelPadding":4,"title":"Dalgaboyu (A°)","titleFont":"Liberation Serif","titlePadding":14}},
"y":{"field":"f","type":"quantitative","scale":{"domain":[50,550],"nice":false,"zero":false},
"axis":{"orient":"left","values":[100,150,200,250,300,350,400,450,500],"labelExpr":"datum.value % 100 === 0 ? '' + datum.value : ''","tickSize":{"condition":{"test":"datum.value % 100 === 0","value":7},"value":4},"labelPadding":6,"title":"Göreli Aki","titleFont":"Liberation Serif","titlePadding":15}},
"detail":{"field":"s"}}},
{"data":{"name":"lab"},"mark":{"type":"text","align":"left","baseline":"middle","font":"Liberation Sans","fontSize":10,"color":"black"},
"encoding":{
"x":{"datum":4959,"type":"quantitative","scale":{"domain":[4770,4975],"nice":false,"zero":false},
"axis":{"orient":"top","values":[4770,4780,4790,4800,4810,4820,4830,4840,4850,4860,4870,4880,4890,4900,4910,4920,4930,4940,4950,4960,4970],"format":"d","labelExpr":"datum.value % 20 === 0 ? datum.label : ''","tickSize":{"condition":{"test":"datum.value % 20 === 0","value":-7},"value":-4},"labelPadding":13,"title":null}},
"y":{"field":"y","type":"quantitative","scale":{"domain":[50,550],"nice":false,"zero":false},
"axis":{"orient":"right","values":[100,150,200,250,300,350,400,450,500],"labelExpr":"datum.value % 100 === 0 ? '' + datum.value : ''","tickSize":{"condition":{"test":"datum.value % 100 === 0","value":-7},"value":-4},"labelPadding":15,"title":null}},
"text":{"field":"s"}}},
{"data":{"values":[{"line":"Hbeta"}]},"mark":{"type":"rule","color":"#ff0000","strokeWidth":1},
"encoding":{"x":{"datum":4861,"type":"quantitative","axis":null}}}
],
"resolve":{"axis":{"x":"independent","y":"independent"}}
},
{"width":508,"height":375,
"layer":[
{"data":{"name":"comp"},"mark":{"type":"line","color":"black","strokeWidth":1},
"encoding":{
"x":{"field":"w","type":"quantitative","scale":{"domain":[4770,4975],"nice":false,"zero":false},
"axis":{"orient":"bottom","values":[4770,4780,4790,4800,4810,4820,4830,4840,4850,4860,4870,4880,4890,4900,4910,4920,4930,4940,4950,4960,4970],"format":"d","labelExpr":"datum.value % 20 === 0 ? datum.label : ''","tickSize":{"condition":{"test":"datum.value % 20 === 0","value":7},"value":4},"labelPadding":4,"title":"Dalgaboyu (A°)","titleFont":"Liberation Serif","titlePadding":14}},
"y":{"field":"f","type":"quantitative","scale":{"domain":[0.5,1.2],"nice":false,"zero":false},
"axis":{"orient":"left","values":[0.5,0.55,0.6,0.65,0.7,0.75,0.8,0.85,0.9,0.95,1,1.05,1.1,1.15,1.2],"labelExpr":"abs(datum.value*10 - round(datum.value*10)) < 0.001 ? format(datum.value, '.1f') : ''","tickSize":{"condition":{"test":"abs(datum.value*10 - round(datum.value*10)) < 0.001","value":7},"value":4},"labelPadding":6,"title":"Göreli Aki","titleFont":"Liberation Serif","titlePadding":15}},
"detail":{"field":"c"}}},
{"data":{"name":"comptxt"},"mark":{"type":"text","align":"center","baseline":"middle","font":"Liberation Serif","fontSize":17.5,"color":"black"},
"encoding":{
"x":{"field":"w","type":"quantitative","scale":{"domain":[4770,4975],"nice":false,"zero":false},
"axis":{"orient":"top","values":[4770,4780,4790,4800,4810,4820,4830,4840,4850,4860,4870,4880,4890,4900,4910,4920,4930,4940,4950,4960,4970],"format":"d","labelExpr":"datum.value % 20 === 0 ? datum.label : ''","tickSize":{"condition":{"test":"datum.value % 20 === 0","value":-7},"value":-4},"labelPadding":13,"title":null}},
"y":{"field":"f","type":"quantitative","scale":{"domain":[0.5,1.2],"nice":false,"zero":false},
"axis":{"orient":"right","values":[0.5,0.55,0.6,0.65,0.7,0.75,0.8,0.85,0.9,0.95,1,1.05,1.1,1.15,1.2],"labelExpr":"abs(datum.value*10 - round(datum.value*10)) < 0.001 ? format(datum.value, '.1f') : ''","tickSize":{"condition":{"test":"abs(datum.value*10 - round(datum.value*10)) < 0.001","value":-7},"value":-4},"labelPadding":15,"title":null}},
"text":{"field":"t"}}}
],
"resolve":{"axis":{"x":"independent","y":"independent"}}
},
{"width":501,"height":366,
"layer":[
{"data":{"name":"fit"},"mark":{"type":"line","color":"black","strokeWidth":1},
"encoding":{
"x":{"field":"p","type":"quantitative","scale":{"domain":[-0.1,1.1],"nice":false,"zero":false},
"axis":{"orient":"bottom","values":[-0.1,0,0.1,0.2,0.3,0.4,0.5,0.6,0.7,0.8,0.9,1,1.1],"labelExpr":"abs(datum.value*5 - round(datum.value*5)) < 0.001 ? format(datum.value, '.1f') : ''","tickSize":{"condition":{"test":"abs(datum.value*5 - round(datum.value*5)) < 0.001","value":7},"value":4},"labelPadding":4,"title":"Evre","titleFont":"Liberation Serif","titlePadding":14}},
"y":{"field":"v","type":"quantitative","scale":{"domain":[-220,220],"nice":false,"zero":false},
"axis":{"orient":"left","values":[-200,-180,-160,-140,-120,-100,-80,-60,-40,-20,0,20,40,60,80,100,120,140,160,180,200],"labelExpr":"datum.value % 40 === 0 ? '' + datum.value : ''","tickSize":{"condition":{"test":"datum.value % 40 === 0","value":7},"value":4},"labelPadding":6,"title":"Dikine Hizlar (km/s)","titleFont":"Liberation Serif","titlePadding":3}},
"detail":{"field":"c"}}},
{"data":{"name":"obs"},"mark":{"type":"point","shape":"circle","filled":true,"size":85,"stroke":"black","strokeWidth":1,"opacity":1},
"encoding":{
"x":{"field":"p","type":"quantitative","scale":{"domain":[-0.1,1.1],"nice":false,"zero":false},
"axis":{"orient":"top","values":[-0.1,0,0.1,0.2,0.3,0.4,0.5,0.6,0.7,0.8,0.9,1,1.1],"labelExpr":"abs(datum.value*5 - round(datum.value*5)) < 0.001 ? format(datum.value, '.1f') : ''","tickSize":{"condition":{"test":"abs(datum.value*5 - round(datum.value*5)) < 0.001","value":-7},"value":-4},"labelPadding":13,"title":null}},
"y":{"field":"v","type":"quantitative","scale":{"domain":[-220,220],"nice":false,"zero":false},
"axis":{"orient":"right","values":[-200,-180,-160,-140,-120,-100,-80,-60,-40,-20,0,20,40,60,80,100,120,140,160,180,200],"labelExpr":"datum.value % 40 === 0 ? '' + datum.value : ''","tickSize":{"condition":{"test":"datum.value % 40 === 0","value":-7},"value":-4},"labelPadding":15,"title":null}},
"fill":{"field":"c","type":"nominal","scale":{"domain":["Birinci Bilesen","Ikinci Bilesen"],"range":["black","white"]},
"legend":{"title":null,"orient":"none","legendX":12,"legendY":997,"strokeColor":"black","fillColor":"white","padding":4,"symbolType":"circle","symbolSize":70,"symbolStrokeColor":"black","symbolStrokeWidth":1,"symbolOpacity":1,"symbolOffset":11,"labelOffset":10,"labelFont":"Liberation Serif","labelFontSize":11.5,"labelColor":"black","rowPadding":4,"cornerRadius":0}}}},
{"data":{"values":[{"t":"V4396 Sgr"}]},"mark":{"type":"text","font":"Liberation Sans","fontSize":16,"align":"center","baseline":"middle","color":"black"},
"encoding":{"x":{"datum":0.537,"type":"quantitative","axis":null},"y":{"datum":175,"type":"quantitative","axis":null},"text":{"field":"t"}}}
],
"resolve":{"axis":{"x":"independent","y":"independent"}}
}
]
}
